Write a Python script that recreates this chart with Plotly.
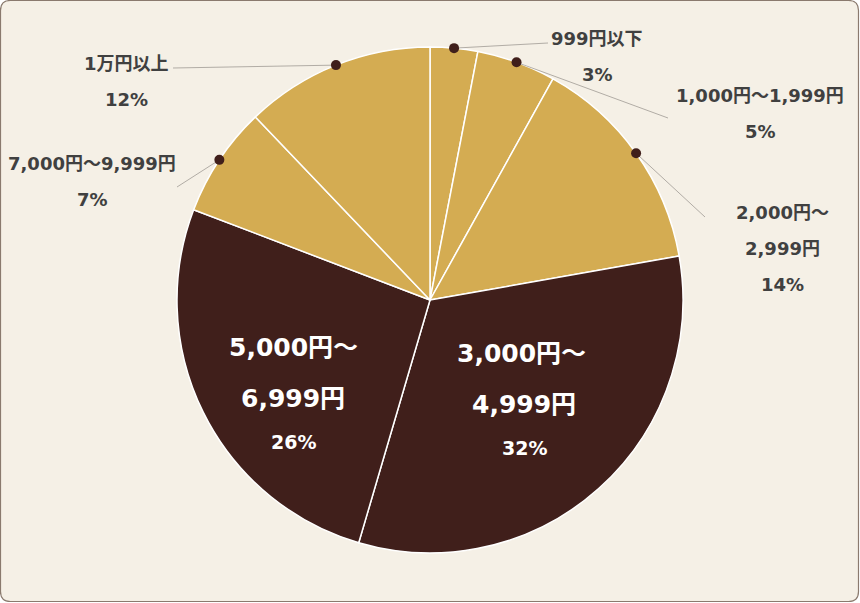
import math
import plotly.graph_objects as go

# ---- data ----
categories = ["999円以下", "1,000円～1,999円", "2,000円～2,999円", "3,000円～4,999円",
              "5,000円～6,999円", "7,000円～9,999円", "1万円以上"]
shares = [3, 5, 14, 32, 26, 7, 12]
label_lines = [["999円以下"], ["1,000円～1,999円"], ["2,000円～", "2,999円"],
               ["3,000円～", "4,999円"], ["5,000円～", "6,999円"],
               ["7,000円～9,999円"], ["1万円以上"]]

# ---- style / layout ----
W, H = 860, 603
CX, CY, R = 430, 300, 253
GOLD = "#d4ac52"
BROWN = "#401f1b"
BG = "#f5f0e6"
TXT = "#404040"
FONT = "DejaVu Sans, Noto Sans CJK JP, sans-serif"
colors = [GOLD, GOLD, GOLD, BROWN, BROWN, GOLD, GOLD]
inside = [False, False, False, True, True, False, False]
# outside label center x, first line y, leader line end point (pixels)
out_pos = {0: (597, 38, 548, 43), 1: (760, 95, 668, 118), 2: (782, 212, 705, 217),
           5: (92, 163, 177, 187), 6: (126, 63, 173, 68)}
in_pos = {3: (521, 353), 4: (293, 347)}

fig = go.Figure()

# background rounded rectangle
rr = 10
x0, y0, x1, y1 = 0.5, 0.5, W - 1.5, H - 1.5
path = (f"M {x0+rr},{y0} L {x1-rr},{y0} Q {x1},{y0} {x1},{y0+rr} L {x1},{y1-rr} "
        f"Q {x1},{y1} {x1-rr},{y1} L {x0+rr},{y1} Q {x0},{y1} {x0},{y1-rr} "
        f"L {x0},{y0+rr} Q {x0},{y0} {x0+rr},{y0} Z")
shapes = [dict(type="path", path=path, xref="x", yref="y", layer="below",
               fillcolor=BG, line=dict(color="#8a7a6e", width=1.2))]

fig.add_trace(go.Pie(
    labels=categories, values=shares, sort=False, direction="clockwise",
    rotation=0, textinfo="none", hoverinfo="label+percent",
    marker=dict(colors=colors, line=dict(color="#ffffff", width=1.5)),
    domain=dict(x=[(CX - R) / W, (CX + R) / W],
                y=[(H - CY - R) / H, (H - CY + R) / H]),
    showlegend=False,
))

total = sum(shares)
cum = 0
annotations = []
dot_r = 5
for i, v in enumerate(shares):
    mid = (cum + v / 2) / total * 2 * math.pi
    cum += v
    if inside[i]:
        x, y = in_pos[i]
        for j, line in enumerate(label_lines[i]):
            annotations.append(dict(x=x + (3 * j if i == 3 else 0), y=y + 51 * j, text=f"<b>{line}</b>",
                                    showarrow=False, xref="x", yref="y",
                                    font=dict(size=25, color="#ffffff", family=FONT)))
        annotations.append(dict(x=x + (3 if i == 3 else 0), y=y + 50 * len(label_lines[i]) - 5,
                                text=f"<b>{v}%</b>", showarrow=False, xref="x", yref="y",
                                font=dict(size=19, color="#ffffff", family=FONT)))
        continue
    dx = CX + R * math.sin(mid)
    dy = CY - R * math.cos(mid)
    lx, ly, ex, ey = out_pos[i]
    shapes.append(dict(type="line", x0=dx, y0=dy, x1=ex, y1=ey, xref="x", yref="y",
                       layer="above", line=dict(color="#a09a94", width=0.8)))
    shapes.append(dict(type="circle", x0=dx - dot_r, x1=dx + dot_r, y0=dy - dot_r, y1=dy + dot_r,
                       xref="x", yref="y", layer="above", fillcolor=BROWN,
                       line=dict(color=BROWN, width=0)))
    lines = label_lines[i] + [f"{v}%"]
    for j, line in enumerate(lines):
        annotations.append(dict(x=lx, y=ly + 36 * j, text=f"<b>{line}</b>", showarrow=False,
                                xref="x", yref="y",
                                font=dict(size=18, color=TXT, family=FONT)))

fig.update_layout(
    width=W, height=H, margin=dict(l=0, r=0, t=0, b=0),
    paper_bgcolor="#ffffff", plot_bgcolor="rgba(0,0,0,0)",
    xaxis=dict(range=[0, W], visible=False, fixedrange=True, domain=[0, 1]),
    yaxis=dict(range=[H, 0], visible=False, fixedrange=True, domain=[0, 1]),
    shapes=shapes, annotations=annotations,
)
fig.write_html("out.html")
